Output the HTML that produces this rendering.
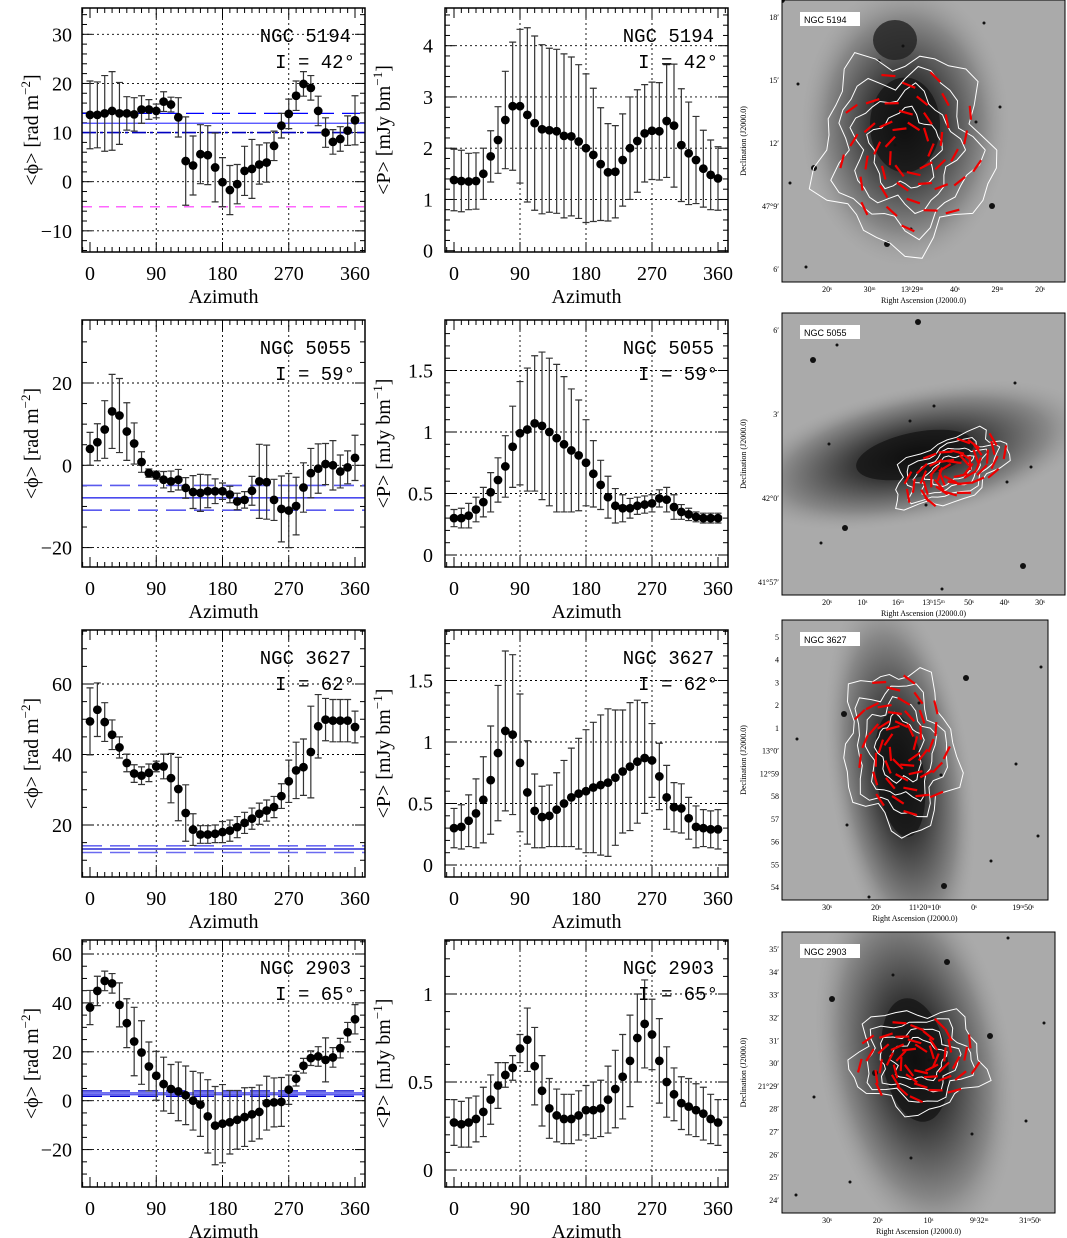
<!DOCTYPE html>
<html><head><meta charset="utf-8"><style>
body{margin:0;background:#fff}
svg{display:block}
</style></head><body>
<svg id="fig" width="1067" height="1238" viewBox="0 0 1067 1238" xmlns="http://www.w3.org/2000/svg">
<defs>
<radialGradient id="g2" cx="0.5" cy="0.5" r="0.5"><stop offset="0" stop-color="#0a0a0a"/><stop offset="0.35" stop-color="#3a3a3a"/><stop offset="0.75" stop-color="#888"/><stop offset="1" stop-color="#a5a5a5" stop-opacity="0"/></radialGradient>
</defs>
</svg>
<script>
const az = [0,10,20,30,40,50,60,70,80,90,100,110,120,130,140,150,160,170,180,190,200,210,220,230,240,250,260,270,280,290,300,310,320,330,340,350,360];
const rm5194 = [13.6,13.6,13.9,14.4,13.9,13.9,13.7,14.7,14.7,14.4,16.3,15.7,13.1,4.2,3.3,5.6,5.4,2.9,-0.1,-1.7,-0.5,2.2,2.6,3.5,3.9,7.3,11.4,13.8,17.5,19.9,19.1,14.4,10,8.1,8.7,10.4,12.5];
const rm5194Err = [6.9,6.7,7.7,8,6.3,3.4,3.4,2.8,2,1.4,2,1.5,4,9,6,6,6,7,5,5,4,5,6,4,4,3,2.5,3,3,2.5,2.5,3,3,2.5,2.5,3,5];
const p5194 = [1.38,1.36,1.35,1.36,1.5,1.84,2.16,2.55,2.82,2.82,2.65,2.49,2.37,2.35,2.33,2.24,2.23,2.13,2.0,1.87,1.69,1.53,1.54,1.77,2.0,2.14,2.29,2.34,2.33,2.53,2.44,2.06,1.9,1.77,1.6,1.48,1.41];
const p5194Err = [0.6,0.6,0.55,0.55,0.5,0.5,0.65,0.95,1.25,1.5,1.7,1.7,1.65,1.6,1.6,1.6,1.55,1.5,1.45,1.3,1.1,0.95,0.9,0.9,1.0,1.0,0.95,0.95,0.95,1.1,1.2,1.1,1.0,0.85,0.75,0.68,0.62];
const rm5055 = [4.0,5.6,8.7,13.1,12.1,8.2,5.3,0.8,-1.9,-2.4,-3.5,-3.9,-3.5,-5.5,-6.5,-6.7,-6.3,-6.3,-6.3,-7.1,-8.8,-8.4,-6.2,-3.9,-4.1,-8.4,-10.6,-11,-9.9,-5.4,-1.9,-0.8,0.3,0,-1.5,-0.5,1.8];
const rm5055Err = [4,4.5,7,9,9,7,5,2.5,1,1,2,2.5,2.5,2.5,4,4.5,4,3,2,2,2,2,3.5,9,9,5,8,9,7,6,6,6,5,6,4,4,5.5];
const p5055 = [0.30,0.30,0.32,0.37,0.43,0.51,0.61,0.72,0.88,0.99,1.02,1.07,1.05,1.0,0.95,0.90,0.85,0.81,0.75,0.66,0.57,0.47,0.40,0.38,0.38,0.40,0.41,0.42,0.46,0.45,0.39,0.35,0.33,0.31,0.30,0.30,0.30];
const p5055Err = [0.07,0.08,0.1,0.1,0.12,0.16,0.18,0.25,0.33,0.42,0.5,0.55,0.6,0.6,0.6,0.55,0.5,0.45,0.35,0.27,0.2,0.17,0.14,0.11,0.08,0.07,0.07,0.07,0.07,0.1,0.1,0.06,0.05,0.04,0.04,0.04,0.04];
const rm3627 = [49.4,52.7,49.2,45.6,42.0,37.6,34.6,34.0,34.8,36.6,36.6,33.3,30.2,23.4,18.7,17.3,17.3,17.5,18.0,18.4,19.4,20.6,21.8,23.2,24.1,25.1,28.2,32.4,35.5,36.4,40.7,48.0,49.9,49.6,49.6,49.6,47.8];
const rm3627Err = [9.5,7.6,5.5,4.2,3,2.5,2.5,2.5,2.5,1.5,3.5,7,9,8,4.5,2.5,2.5,2.5,3,3,3,3,3,3,3,3,3.5,6,8,8,13,9,6,6,6,6,4.5];
const p3627 = [0.30,0.31,0.36,0.42,0.53,0.69,0.91,1.09,1.06,0.83,0.59,0.44,0.39,0.40,0.45,0.50,0.55,0.58,0.60,0.63,0.65,0.67,0.71,0.76,0.80,0.84,0.87,0.85,0.72,0.55,0.47,0.46,0.38,0.31,0.30,0.29,0.29];
const p3627Err = [0.16,0.18,0.21,0.28,0.35,0.44,0.55,0.65,0.65,0.56,0.42,0.3,0.25,0.25,0.3,0.35,0.4,0.45,0.5,0.53,0.57,0.6,0.55,0.5,0.52,0.5,0.45,0.3,0.27,0.26,0.2,0.2,0.17,0.17,0.15,0.15,0.16];
const rm2903 = [38.1,44.9,49.0,48.0,39.2,31.7,24.2,19.7,14.0,10.2,6.8,4.8,3.8,2.2,0,-1.6,-6.4,-10.2,-9.4,-8.8,-7.8,-6.7,-5.6,-4.6,-1.0,-0.7,-0.5,4.5,9.0,14.3,17.4,18.1,16.7,17.7,21.5,28.0,33.3];
const rm2903Err = [7,6,4,4,9,10,14,13,10,10,11,10,12,12,12,13,15,16,16,13,12,12,11,11,11,10,10,6,3,3,3,4,9,4,4,4,6];
const p2903 = [0.27,0.26,0.27,0.29,0.33,0.40,0.48,0.54,0.58,0.69,0.74,0.59,0.45,0.35,0.31,0.29,0.29,0.31,0.34,0.34,0.35,0.40,0.46,0.53,0.62,0.75,0.83,0.77,0.62,0.50,0.43,0.38,0.36,0.34,0.32,0.29,0.27];
const p2903Err = [0.13,0.13,0.14,0.13,0.14,0.14,0.13,0.07,0.07,0.08,0.18,0.22,0.2,0.17,0.15,0.14,0.14,0.14,0.14,0.16,0.16,0.19,0.22,0.24,0.26,0.25,0.25,0.2,0.24,0.2,0.15,0.15,0.16,0.15,0.15,0.14,0.13];
const xTicks = [0,90,180,270,360];
const galaxies = ['NGC 5194','NGC 5055','NGC 3627','NGC 2903'];
const incl = ['42','59','62','65'];

const NS='http://www.w3.org/2000/svg';
const svg=document.getElementById('fig');
function mk(tag,attrs,parent){const e=document.createElementNS(NS,tag);for(const k in attrs)e.setAttribute(k,attrs[k]);(parent||svg).appendChild(e);return e;}
function txt(s,attrs,parent){const e=mk('text',attrs,parent);e.textContent=s;return e;}

const rows=[{top:8,bot:252},{top:320,bot:567},{top:630,bot:877},{top:940,bot:1187}];
const cols={L:{x0:82,x1:365,a0:90,a1:355,lab:72,title:38},M:{x0:445,x1:728,a0:454,a1:718,lab:433,title:390}};
const panels=[
 {r:0,c:'L',ref:[0,181.7,30,34.3],lo:-14,hi:35,maj:10,min:2,val:rm5194,err:rm5194Err,key:'rm',
  hl:[[13.9,'18,8','#0000ff',1.3],[11.9,'','#4444ff',1.3],[10,'14,4,3,4','#0000c0',1.6],[-5.1,'10,7','#ff66ff',1.6]]},
 {r:0,c:'M',ref:[0,250.7,4,45.7],lo:0,hi:4.7,maj:1,min:0.2,val:p5194,err:p5194Err,key:'p',hl:[]},
 {r:1,c:'L',ref:[0,465.3,20,383],lo:-24,hi:34,maj:20,min:5,val:rm5055,err:rm5055Err,key:'rm',
  hl:[[-4.9,'20,8','#5a5aee',1.6],[-7.9,'','#4a4aee',1.6],[-10.9,'20,8','#5a5aee',1.6]]},
 {r:1,c:'M',ref:[0,555,1,432],lo:0,hi:1.85,maj:0.5,min:0.1,val:p5055,err:p5055Err,key:'p',hl:[]},
 {r:2,c:'L',ref:[20,825,60,684],lo:6,hi:75,maj:20,min:5,val:rm3627,err:rm3627Err,key:'rm',
  hl:[[14.1,'20,8','#6a6af0',1.6],[13.2,'','#0000cc',1.2],[12.2,'20,8','#6a6af0',1.6]]},
 {r:2,c:'M',ref:[0,865,1,742],lo:0,hi:1.9,maj:0.5,min:0.1,val:p3627,err:p3627Err,key:'p',hl:[]},
 {r:3,c:'L',ref:[0,1100.7,60,954],lo:-34,hi:65,maj:20,min:5,val:rm2903,err:rm2903Err,key:'rm',
  hl:[[4,'20,8','#0000cc',1.3],[3.2,'','#5a5af0',1.6],[2.5,'','#5a5af0',1.6],[1.8,'20,8','#0000cc',1.3]]},
 {r:3,c:'M',ref:[0,1170,1,994],lo:0,hi:1.3,maj:0.5,min:0.1,val:p2903,err:p2903Err,key:'p',hl:[]}
];

panels.forEach((P,pi)=>{
 const R=rows[P.r],C=cols[P.c];
 const g=mk('g',{});
 
 
 const X=a=>C.a0+(a/360)*(C.a1-C.a0);
 const Y=v=>P.ref[1]+(v-P.ref[0])*(P.ref[3]-P.ref[1])/(P.ref[2]-P.ref[0]);
 [90,180,270].forEach(a=>{const l=mk('line',{x1:X(a),x2:X(a),y1:R.top,y2:R.bot,stroke:'#000','stroke-width':0.9,'stroke-dasharray':'2,3'},g);
  });
 const start=Math.ceil(P.lo/P.maj)*P.maj;
 for(let v=start;v<=P.hi+1e-9;v+=P.maj){
  const y=Y(v);
  if(y>R.top+3&&y<R.bot-3){const l=mk('line',{x1:C.x0,x2:C.x1,y1:y,y2:y,stroke:'#000','stroke-width':0.9,'stroke-dasharray':'2,3'},g);
   }
  if(y>=R.top-2&&y<=R.bot+2){const lab=Math.abs(v)<1e-9?'0':(P.maj<1?(+v.toFixed(1)).toString():v.toFixed(0)).replace('-','\u2212');
   const t=txt(lab,{x:C.lab,y:y+7,'text-anchor':'end','font-family':'Liberation Serif, serif','font-size':20},g);
   }
 }
 const ms=Math.ceil(P.lo/P.min)*P.min;
 for(let v=ms;v<=P.hi+1e-9;v+=P.min){
  const y=Y(v); if(y<R.top||y>R.bot)continue;
  const isMaj=Math.abs(v/P.maj-Math.round(v/P.maj))<1e-6;const L=isMaj?10:5;
  mk('line',{x1:C.x0,x2:C.x0+L,y1:y,y2:y,stroke:'#000','stroke-width':1},g);
  mk('line',{x1:C.x1,x2:C.x1-L,y1:y,y2:y,stroke:'#000','stroke-width':1},g);
 }
 for(let a=-10;a<=380;a+=10){
  const x=X(a); if(x<C.x0||x>C.x1)continue;
  const L=(a%90===0)?10:5;
  mk('line',{x1:x,x2:x,y1:R.bot,y2:R.bot-L,stroke:'#000','stroke-width':1},g);
  mk('line',{x1:x,x2:x,y1:R.top,y2:R.top+L,stroke:'#000','stroke-width':1},g);
 }
 xTicks.forEach(a=>{const t=txt(String(a),{x:X(a),y:R.bot+28,'text-anchor':'middle','font-family':'Liberation Serif, serif','font-size':20},g);
  });
 const xt=txt('Azimuth',{x:(C.x0+C.x1)/2,y:R.bot+51,'text-anchor':'middle','font-family':'Liberation Serif, serif','font-size':20},g);
 
 const cy=(R.top+R.bot)/2;
 const yt=txt(P.key==='rm'?'<\u03d5> [rad m':'<P> [mJy bm',{x:C.title,y:cy,'text-anchor':'middle','font-family':'Liberation Serif, serif','font-size':20,transform:`rotate(-90 ${C.title} ${cy})`},g);
 const sup=mk('tspan',{dy:-8,'font-size':13},yt);sup.textContent=P.key==='rm'?'\u22122':'\u22121';
 const cl=mk('tspan',{dy:8},yt);cl.textContent=']';
 
 P.hl.forEach(h=>{const l=mk('line',{x1:C.x0,x2:C.x1,y1:Y(h[0]),y2:Y(h[0]),stroke:h[2],'stroke-width':h[3],'stroke-dasharray':h[1]},g);
  });
 az.forEach((a,i)=>{
  const x=X(a),v=P.val[i],e=P.err[i];
  const eb=mk('path',{d:`M${x},${Y(v-e)}V${Y(v+e)}M${x-3.5},${Y(v-e)}H${x+3.5}M${x-3.5},${Y(v+e)}H${x+3.5}`,stroke:'#333','stroke-width':1.2,fill:'none'},g);
  
  const c=mk('circle',{cx:x,cy:Y(v),r:4.4,fill:'#000'},g);
  
 });
 const n=txt(galaxies[P.r],{x:C.x1-14,y:R.top+34,'text-anchor':'end','font-family':'Liberation Mono, monospace','font-size':19},g);
 
 const ii=txt('I = '+incl[P.r]+'\u00b0',{x:C.x1-10,y:R.top+60,'text-anchor':'end','font-family':'Liberation Mono, monospace','font-size':19},g);
 
 mk('rect',{x:C.x0,y:R.top,width:C.x1-C.x0,height:R.bot-R.top,fill:'none',stroke:'#000','stroke-width':1.5},g);
});

const imgs=[
 {x:782,y:0,w:283,h:282,cx:905,cy:125,rx:70,ry:95,rot:0,ex:[[895,40,22,20]],cont:[[905,150,85,95,0]],vec:[[910,150,70,80,0]],name:'NGC 5194',
  xl:['20\u02e2','30\u1d50','13\u02b029\u1d50','40\u02e2','29\u1d50','20\u02e2'],yl:['18\u2032','15\u2032','12\u2032','47\u00b09\u2032','6\u2032']},
 {x:782,y:313,w:283,h:282,cx:915,cy:455,rx:120,ry:45,rot:-12,ex:[],cont:[[950,470,60,30,-25]],vec:[[955,470,55,25,-25]],name:'NGC 5055',
  xl:['20\u02e2','10\u02e2','16\u1d50','13\u02b015\u1d50','50\u02e2','40\u02e2','30\u02e2'],yl:['6\u2032','3\u2032','42\u00b00\u2032','41\u00b057\u2032']},
 {x:782,y:620,w:266,h:280,cx:900,cy:775,rx:48,ry:125,rot:-8,ex:[],cont:[[900,750,55,80,-8]],vec:[[902,745,45,70,-8]],name:'NGC 3627',
  xl:['30\u02e2','20\u02e2','11\u02b020\u1d5010\u02e2','0\u02e2','19\u1d5050\u02e2'],yl:['5','4','3','2','1','13\u00b00\u2032','12\u00b059','58','57','56','55','54']},
 {x:782,y:932,w:273,h:281,cx:915,cy:1060,rx:65,ry:125,rot:-10,ex:[],cont:[[918,1060,65,50,0]],vec:[[918,1060,60,40,0]],name:'NGC 2903',
  xl:['30\u02e2','20\u02e2','10\u02e2','9\u02b032\u1d50','31\u1d5050\u02e2'],yl:['35\u2032','34\u2032','33\u2032','32\u2032','31\u2032','30\u2032','21\u00b029\u2032','28\u2032','27\u2032','26\u2032','25\u2032','24\u2032']}
];
imgs.forEach((I,k)=>{
 const g=mk('g',{});
 
 
 const cp=mk('clipPath',{id:'cp'+k},g);mk('rect',{x:I.x,y:I.y,width:I.w,height:I.h},cp);
 const ig=mk('g',{'clip-path':`url(#cp${k})`},g);
 mk('rect',{x:I.x,y:I.y,width:I.w,height:I.h,fill:'#aaa'},ig);
 mk('ellipse',{cx:I.cx,cy:I.cy,rx:I.rx*1.5,ry:I.ry*1.5,fill:'url(#g2)',transform:`rotate(${I.rot} ${I.cx} ${I.cy})`},ig);
 mk('ellipse',{cx:I.cx,cy:I.cy,rx:I.rx*0.5,ry:I.ry*0.5,fill:'#111',opacity:0.7,transform:`rotate(${I.rot} ${I.cx} ${I.cy})`},ig);
 I.ex.forEach(e=>mk('ellipse',{cx:e[0],cy:e[1],rx:e[2],ry:e[3],fill:'#222',opacity:0.8},ig));
 for(let s=0;s<14;s++){const sx=I.x+((s*97+k*31)%I.w),sy=I.y+((s*61+k*47)%I.h);mk('circle',{cx:sx,cy:sy,r:(s%4===0)?3:1.5,fill:'#111'},ig);}
 I.cont.forEach(c=>{for(let j=0;j<4;j++){const rx=c[2]*(1-j*0.2),ry=c[3]*(1-j*0.2);
  let d='';for(let t=0;t<=36;t++){const th=t/36*Math.PI*2,w=1+0.12*Math.sin(th*5+j)+0.08*Math.cos(th*9+k);
   d+=(t?'L':'M')+(c[0]+rx*w*Math.cos(th)).toFixed(1)+','+(c[1]+ry*w*Math.sin(th)).toFixed(1);}
  mk('path',{d:d,fill:'none',stroke:'#fff','stroke-width':1,transform:`rotate(${c[4]} ${c[0]} ${c[1]})`},ig);}});
 I.vec.forEach(v=>{for(let a=0;a<5;a++)for(let b=0;b<9;b++){
  const r=0.3+a*0.17,th=b/9*Math.PI*2+a*0.4;
  const px=v[0]+v[2]*r*Math.cos(th),py=v[1]+v[3]*r*Math.sin(th);
  const ang=th+Math.PI/2+0.4,L=7;
  mk('line',{x1:px-L*Math.cos(ang),y1:py-L*Math.sin(ang),x2:px+L*Math.cos(ang),y2:py+L*Math.sin(ang),stroke:'#e00','stroke-width':2.2,transform:`rotate(${v[4]} ${v[0]} ${v[1]})`},ig);}});
 mk('rect',{x:I.x,y:I.y,width:I.w,height:I.h,fill:'none',stroke:'#000','stroke-width':1},g);
 mk('rect',{x:I.x+18,y:I.y+12,width:60,height:14,fill:'#fff'},g);
 const lb=txt(I.name,{x:I.x+22,y:I.y+23,'font-family':'Liberation Sans, sans-serif','font-size':9},g);
 
 I.xl.forEach((s,j)=>{const t=txt(s,{x:I.x+45+j*(I.w-70)/(I.xl.length-1),y:I.y+I.h+10,'text-anchor':'middle','font-family':'Liberation Serif, serif','font-size':8},g);
  });
 I.yl.forEach((s,j)=>{const t=txt(s,{x:I.x-3,y:I.y+20+j*(I.h-30)/(I.yl.length-1),'text-anchor':'end','font-family':'Liberation Serif, serif','font-size':8},g);
  });
 const rx=txt('Right Ascension (J2000.0)',{x:I.x+I.w/2,y:I.y+I.h+21,'text-anchor':'middle','font-family':'Liberation Serif, serif','font-size':8},g);
 
 const dx=I.x-36,dy=I.y+I.h/2;
 const dt=txt('Declination (J2000.0)',{x:dx,y:dy,'text-anchor':'middle','font-family':'Liberation Serif, serif','font-size':8,transform:`rotate(-90 ${dx} ${dy})`},g);
 
});
</script>
</body></html>
